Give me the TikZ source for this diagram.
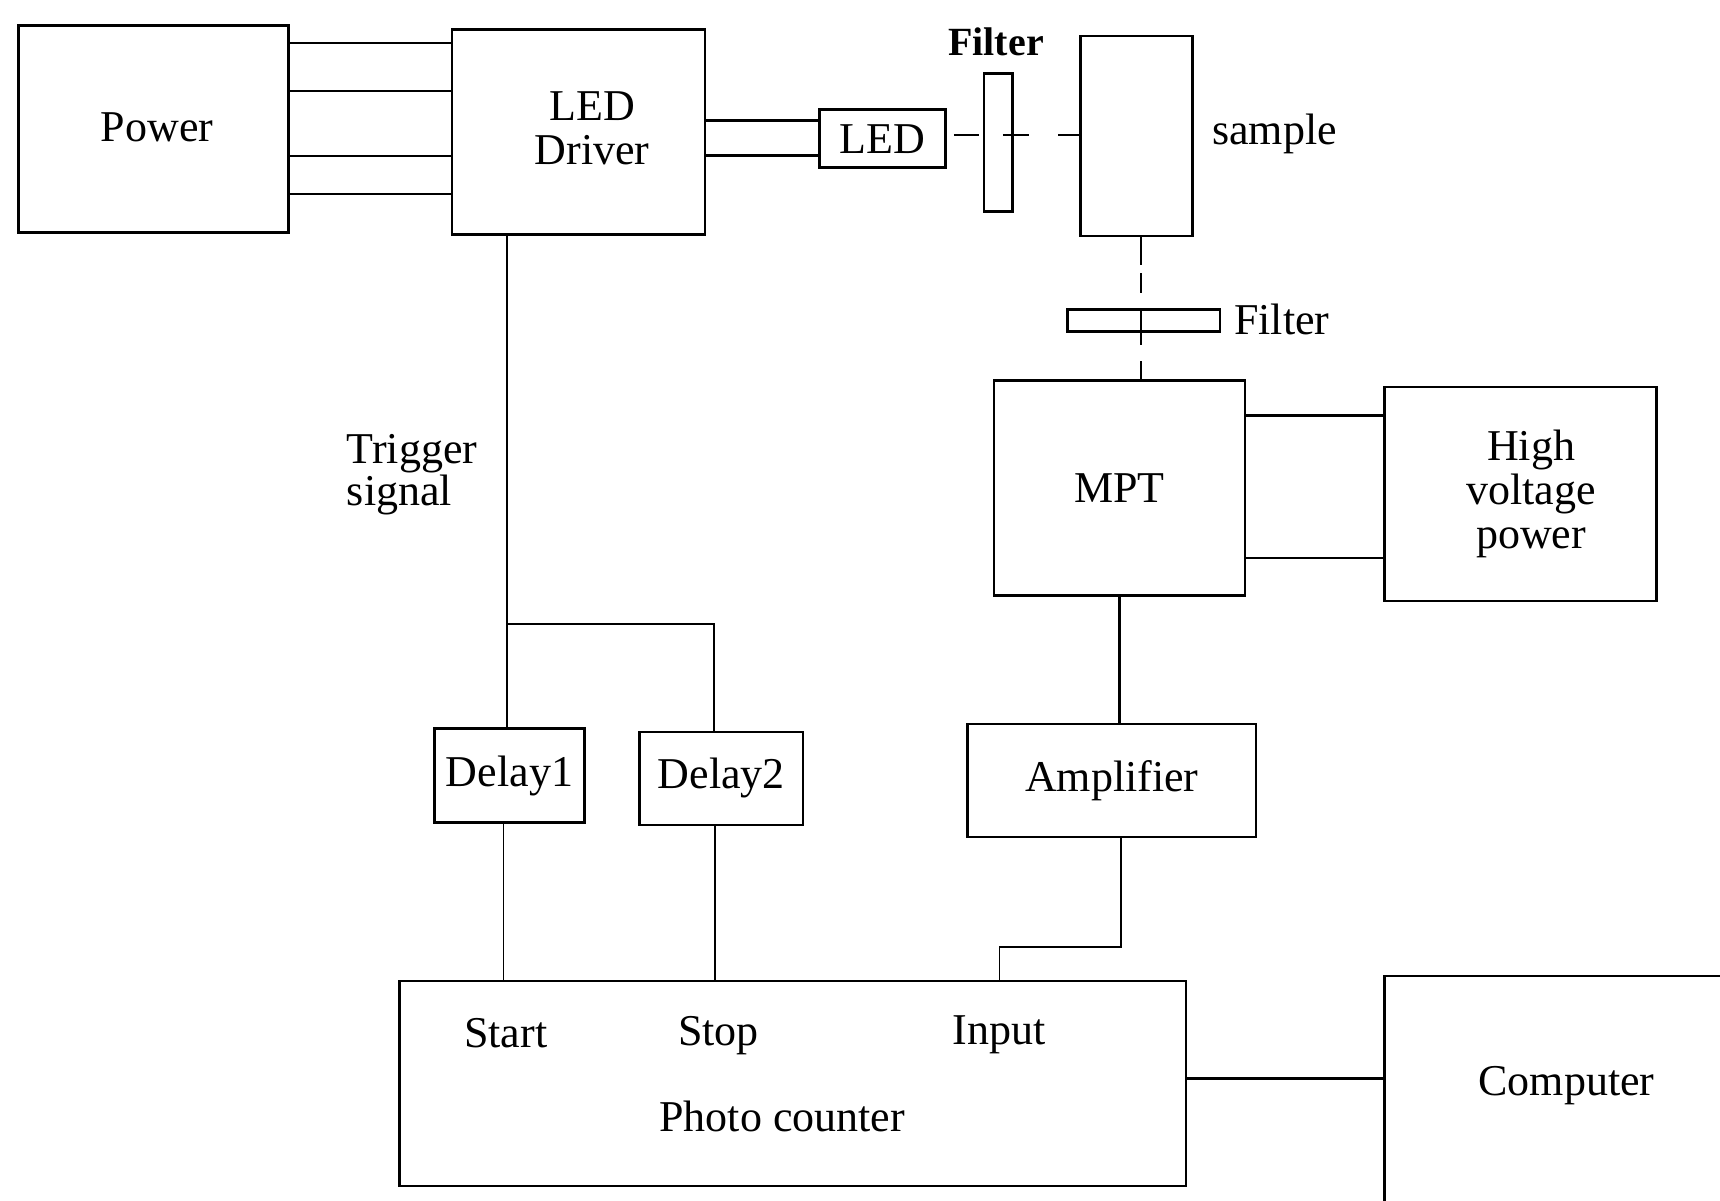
\documentclass[tikz,border=0pt]{standalone}
\usepackage{fontspec}
\setmainfont{Liberation Serif}
\usetikzlibrary{calc}
\begin{document}
\begin{tikzpicture}[x=1pt,y=-1pt,
  box/.style={draw, line width=2.6pt, inner sep=0pt, align=center, font=\fontsize{44}{44}\selectfont},
  lbl/.style={inner sep=0pt, align=center, font=\fontsize{44}{44}\selectfont},
  wire/.style={line width=2.2pt},
  sigwire/.style={line width=1.6pt},
  optic/.style={line width=2pt}]
\useasboundingbox (0,0) rectangle (1720,1201);

% boxes
\node[box, minimum width=270pt, minimum height=207pt] (power) at (153.5,129) {};
\node[lbl] (powerlbl) at (157,127) {Power};
\node[box, minimum width=253pt, minimum height=205pt] (driver) at (578.5,132) {};
\node[lbl] (driverlbl) at (592,128) {LED\\Driver};
\node[box, minimum width=126pt, minimum height=58pt] (led) at (882.5,138.7) {LED};
\node[box, minimum width=28.6pt, minimum height=138pt] (filter1) at (998.3,142.6) {};
\node[lbl, font=\fontsize{40}{42}\selectfont\bfseries] (filter1lbl) at (996,41.7) {Filter};
\node[box, minimum width=112pt, minimum height=200pt] (sample) at (1136.5,136) {};
\node[lbl, anchor=west] (samplelbl) at (1212,133.8) {sample};
\node[box, minimum width=152.5pt, minimum height=22pt] (filter2) at (1143.6,320.4) {};
\node[lbl, anchor=west] (filter2lbl) at (1234,319) {Filter};
\node[box, minimum width=251pt, minimum height=215pt] (mpt) at (1119.5,488) {MPT};
\node[box, minimum width=272pt, minimum height=214pt] (hv) at (1520.5,494) {};
\node[lbl] (hvlbl) at (1531,494) {High\\voltage\\power};
\node[box, minimum width=288.5pt, minimum height=113pt] (amp) at (1111.8,780.5) {Amplifier};
\node[box, minimum width=150pt, minimum height=94pt] (delay1) at (509.5,775.6) {Delay1};
\node[box, minimum width=163.4pt, minimum height=93pt] (delay2) at (721.3,778.4) {Delay2};
\node[box, minimum width=786.6pt, minimum height=205pt] (counter) at (792.6,1083.3) {};
\node[lbl] (start) at (505.7,1033.4) {Start};
\node[lbl] (stop) at (718.5,1035.6) {Stop};
\node[lbl] (input) at (999.4,1035) {Input};
\node[lbl] (pclbl) at (782.2,1116.7) {Photo counter};
\node[box, minimum width=400pt, minimum height=300pt] (computer) at (1584.4,1126) {};
\node[lbl] (complbl) at (1566.5,1086) {Computer};
\node[lbl, anchor=west, align=left, font=\fontsize{44}{42}\selectfont] (trig) at (346.7,475) {Trigger\\signal};

% power -> driver
\foreach \d [count=\i] in {18.7,66.9,131.7,170.1} {
  \coordinate (pw\i) at ($(power.north east)+(0,\d)$);
  \draw[wire] (pw\i) -- (pw\i -| driver.west);
}
% driver -> LED
\foreach \d [count=\i] in {12.1,47.2} {
  \coordinate (dl\i) at ($(led.north west)+(0,\d)$);
  \draw[wire] (dl\i) -- (dl\i -| driver.east);
}
% optical path LED -> filter -> sample
\coordinate (optin) at ($(sample.west)+(0,-1)$);
\draw[optic, dash pattern=on 0pt off 7pt on 25pt off 24pt on 26.4pt off 29pt on 30pt off 100pt]
  (optin -| led.east) -- (optin);
% sample -> filter -> MPT
\coordinate (vtop) at ($(sample.south)+(4.5,0)$);
\draw[optic, dash pattern=on 28pt off 8pt on 20pt off 18pt on 34pt off 16pt on 40pt off 100pt]
  (vtop) -- (vtop |- mpt.north);
% MPT -> HV
\foreach \d [count=\i] in {36.3,178.9} {
  \coordinate (mh\i) at ($(mpt.north east)+(0,\d)$);
  \draw[wire] (mh\i) -- (mh\i -| hv.west);
}
% MPT -> amplifier
\draw[wire] (mpt.south) -- (mpt.south |- amp.north);
% amplifier -> input
\coordinate (ampout) at ($(amp.south)+(9.3,0)$);
\draw[sigwire] (ampout) -- ++(0,108.6) -| (input |- counter.north);
% trigger
\coordinate (trigtop) at ($(delay1.north)+(-2.7,0)$);
\draw[sigwire] (trigtop |- driver.south) -- (trigtop);
\coordinate (branch) at ($(trigtop)+(0,-103.1)$);
\coordinate (d2in) at ($(delay2.north)+(-7.1,0)$);
\draw[sigwire] (branch) -| (d2in);
% delays -> counter
\coordinate (d1out) at ($(delay1.south)+(-6,0)$);
\draw[sigwire] (d1out) -- (d1out |- counter.north);
\coordinate (d2out) at ($(delay2.south)+(-6.1,0)$);
\draw[sigwire] (d2out) -- (d2out |- counter.north);
% counter -> computer
\coordinate (cc) at ($(counter.east)+(0,-4.9)$);
\draw[wire] (cc) -- (cc -| computer.west);
\end{tikzpicture}
\end{document}
